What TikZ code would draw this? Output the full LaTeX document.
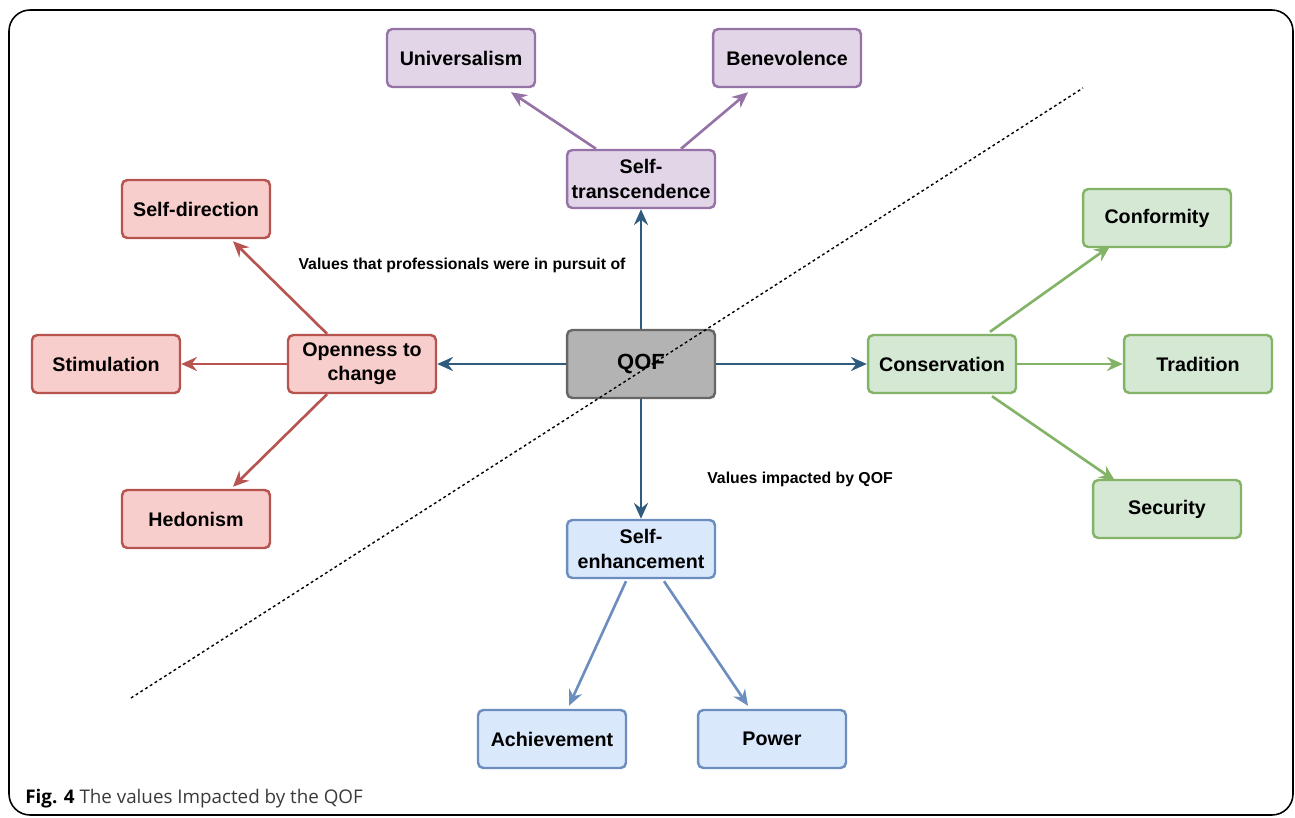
\documentclass[tikz,border=0pt]{standalone}
\usepackage{fontspec}
\setmainfont{Liberation Sans}
\newfontfamily\capfont{Open Sans}
\usetikzlibrary{arrows.meta}
\definecolor{purpleF}{HTML}{E1D5E7}\definecolor{purpleD}{HTML}{9673A6}
\definecolor{redF}{HTML}{F8CECC}\definecolor{redD}{HTML}{B85450}
\definecolor{greenF}{HTML}{D5E8D4}\definecolor{greenD}{HTML}{82B366}
\definecolor{blueF}{HTML}{DAE8FC}\definecolor{blueD}{HTML}{6C8EBF}
\definecolor{grayF}{HTML}{B3B3B3}\definecolor{grayD}{HTML}{666666}
\definecolor{navy}{HTML}{2F5B7F}
\definecolor{capgray}{HTML}{3A3A3A}
\begin{document}
\begin{tikzpicture}[x=0.02cm,y=-0.02cm,
  box/.style={draw, line width=1.4pt, rounded corners=3pt, minimum width=2.96cm, minimum height=1.16cm,
    align=center, font=\fontsize{11.2}{13.8}\selectfont\bfseries, inner sep=2pt},
  pbox/.style={box, fill=purpleF, draw=purpleD},
  rbox/.style={box, fill=redF, draw=redD},
  gbox/.style={box, fill=greenF, draw=greenD},
  bbox/.style={box, fill=blueF, draw=blueD},
  arr/.style={line width=1.5pt, -{Stealth[length=9pt,width=8pt,inset=3pt]}},
  lbl/.style={font=\fontsize{9}{11}\selectfont\bfseries}
]
\useasboundingbox (0,0) rectangle (1295,818);
\draw[line width=0.9pt, rounded corners=12pt] (9,10) rectangle (1293,815);

% dotted diagonal
\coordinate (d1) at (131,698);
\coordinate (d2) at (1083,88);

% nodes
\node[box, fill=grayF, draw=grayD, minimum height=1.36cm, font=\fontsize{12.5}{15}\selectfont\bfseries] (qof) at (641,364) {QOF};
\node[pbox] (st) at (641,179) {Self-\\transcendence};
\node[pbox] (uni) at (461,58) {Universalism};
\node[pbox] (ben) at (787,58) {Benevolence};
\node[rbox] (oc) at (362,364) {Openness to\\change};
\node[rbox] (sd) at (196,209) {Self-direction};
\node[rbox] (sti) at (106,364) {Stimulation};
\node[rbox] (hed) at (196,519) {Hedonism};
\node[gbox] (con) at (942,364) {Conservation};
\node[gbox] (conf) at (1157,218) {Conformity};
\node[gbox] (tra) at (1198,364) {Tradition};
\node[gbox] (sec) at (1167,509) {Security};
\node[bbox] (se) at (641,549) {Self-\\enhancement};
\node[bbox] (ach) at (552,739) {Achievement};
\node[bbox] (pow) at (772,739) {Power};

\draw[line width=0.8pt, dash pattern=on 1.6pt off 1.6pt] (d1) -- (d2);

% QOF arrows
\draw[arr, draw=navy, fill=navy] (qof.north) -- (st.south);
\draw[arr, draw=navy, fill=navy] (qof.west) -- (oc.east);
\draw[arr, draw=navy, fill=navy] (qof.east) -- (con.west);
\draw[arr, draw=navy, fill=navy] (qof.south) -- (se.north);

% purple
\draw[arr, draw=purpleD, fill=purpleD] ([xshift=-0.9cm]st.north) -- ([xshift=1.0cm,yshift=-0.08cm]uni.south);
\draw[arr, draw=purpleD, fill=purpleD] ([xshift=0.8cm]st.north) -- ([xshift=-0.78cm,yshift=-0.08cm]ben.south);
% red
\draw[arr, draw=redD, fill=redD] ([xshift=-0.7cm]oc.north) -- ([xshift=0.74cm,yshift=-0.04cm]sd.south);
\draw[arr, draw=redD, fill=redD] (oc.west) -- (sti.east);
\draw[arr, draw=redD, fill=redD] ([xshift=-0.7cm]oc.south) -- ([xshift=0.74cm,yshift=0.04cm]hed.north);
% green
\draw[arr, draw=greenD, fill=greenD] ([xshift=0.96cm,yshift=0.04cm]con.north) -- ([xshift=-0.94cm,yshift=0.04cm]conf.south);
\draw[arr, draw=greenD, fill=greenD] (con.east) -- (tra.west);
\draw[arr, draw=greenD, fill=greenD] ([xshift=1.0cm,yshift=-0.04cm]con.south) -- ([xshift=-1.04cm,yshift=-0.04cm]sec.north);
% blue
\draw[arr, draw=blueD, fill=blueD] ([xshift=-0.3cm,yshift=-0.04cm]se.south) -- ([xshift=0.34cm,yshift=0.06cm]ach.north);
\draw[arr, draw=blueD, fill=blueD] ([xshift=0.46cm,yshift=-0.04cm]se.south) -- ([xshift=-0.48cm,yshift=0.06cm]pow.north);

% labels
\node[lbl] (l1) at (462,265) {Values that professionals were in pursuit of};
\node[lbl] (l2) at (800,479) {Values impacted by QOF};

% caption
\node[anchor=base west, inner sep=0pt, font=\capfont\fontsize{10.7}{12}\selectfont, text=capgray] (cap) at (25,803) {{\bfseries\color{black}Fig. 4} The values Impacted by the QOF};
\end{tikzpicture}
\end{document}
